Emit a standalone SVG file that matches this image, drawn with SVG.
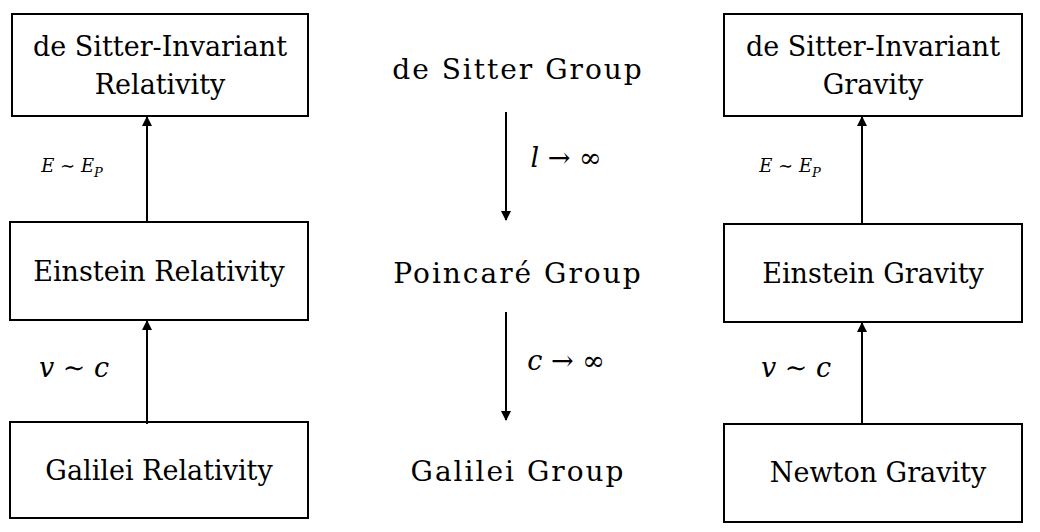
<svg xmlns="http://www.w3.org/2000/svg" width="1040" height="532" viewBox="0 0 1040 532">
<style>
.b{fill:#fff;stroke:#000;stroke-width:2}
text{font-family:"DejaVu Serif","Liberation Serif",serif;fill:#000;text-anchor:middle}
.t{font-size:27px}
.g{font-size:28px;letter-spacing:2px}
.m{font-style:italic;font-size:27px}
.s{font-style:italic;font-size:18px}
.c line{stroke:#000;stroke-width:2;marker-end:url(#a)}
</style>
<defs><marker id="a" markerWidth="10" markerHeight="14" refX="9" refY="7" orient="auto" markerUnits="userSpaceOnUse"><path d="M0,2L10,7L0,12z"/></marker></defs>
<rect width="1040" height="532" fill="#fff"/>
<g id="n1"><rect class="b" x="12" y="14" width="296" height="102"/><text class="t" x="160" y="56">de Sitter-Invariant</text><text class="t" x="160" y="94">Relativity</text></g>
<g id="n2"><rect class="b" x="10" y="222" width="298" height="98"/><text class="t" x="159" y="281">Einstein Relativity</text></g>
<g id="n3"><rect class="b" x="10" y="422" width="298" height="96"/><text class="t" x="159" y="480">Galilei Relativity</text></g>
<g id="n4"><rect class="b" x="724" y="14" width="298" height="102"/><text class="t" x="873" y="56">de Sitter-Invariant</text><text class="t" x="873" y="94">Gravity</text></g>
<g id="n5"><rect class="b" x="724" y="224" width="298" height="98"/><text class="t" x="873" y="283">Einstein Gravity</text></g>
<g id="n6"><rect class="b" x="724" y="424" width="298" height="98"/><text class="t" x="878" y="482">Newton Gravity</text></g>
<g id="n7"><text class="g" x="518" y="79">de Sitter Group</text></g>
<g id="n8"><text class="g" x="518" y="283">Poincaré Group</text></g>
<g id="n9"><text class="g" x="518" y="481">Galilei Group</text></g>
<g class="c" id="connectors">
<line x1="147" y1="222" x2="147" y2="117"/>
<line x1="147" y1="424" x2="147" y2="321"/>
<line x1="862" y1="224" x2="862" y2="117"/>
<line x1="862" y1="424" x2="862" y2="323"/>
<line x1="506" y1="112" x2="506" y2="220"/>
<line x1="506" y1="312" x2="506" y2="420"/>
</g>
<text class="s" x="72" y="172">E ∼ E<tspan font-size="13" dy="5">P</tspan></text>
<text class="s" x="790" y="172">E ∼ E<tspan font-size="13" dy="5">P</tspan></text>
<text class="m" x="74" y="377">v ∼ c</text>
<text class="m" x="796" y="377">v ∼ c</text>
<text class="m" x="566" y="167">l <tspan font-style="normal">→ ∞</tspan></text>
<text class="m" x="566" y="370">c <tspan font-style="normal">→ ∞</tspan></text>
</svg>
